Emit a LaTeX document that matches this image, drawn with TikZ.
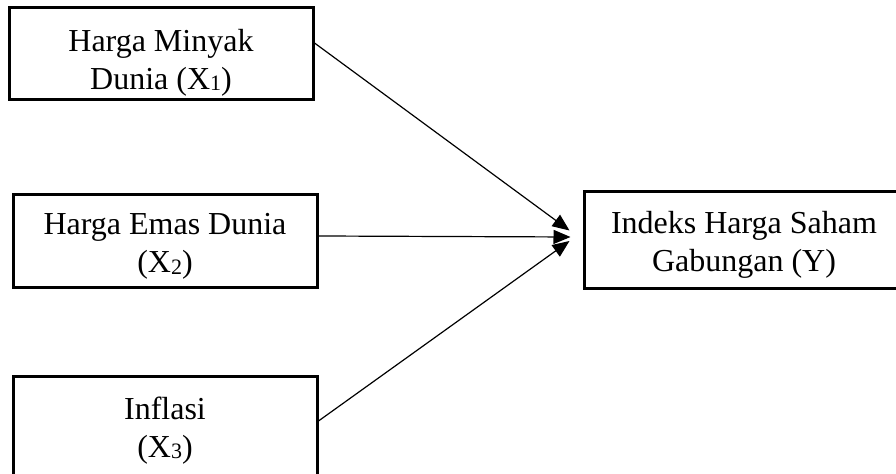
\documentclass[tikz,border=0pt]{standalone}
\usepackage{fontspec}
\setmainfont{Liberation Serif}
\usetikzlibrary{arrows.meta}
\newcommand\mysub[1]{\raisebox{-0.8pt}{\fontsize{11}{11}\selectfont #1}}
\tikzset{
  box/.style={draw=black, line width=1.5pt, rectangle, inner sep=0pt},
  lbl/.style={align=center, inner sep=0pt, font=\fontsize{16}{19}\selectfont},
  arr/.style={draw=black, line width=0.6pt, -{Triangle[length=8.5pt,width=7pt]}}
}
\begin{document}
\begin{tikzpicture}[x=0.5pt,y=-0.5pt]
\useasboundingbox (0,0) rectangle (896,474);
\clip (0,0) rectangle (896,474);
\fill[white] (0,0) rectangle (896,474);
% boxes
\node[box, minimum width=152pt, minimum height=46pt] (x1) at (161,54) {};
\node[box, minimum width=152pt, minimum height=46.5pt] (x2) at (165,241.5) {};
\node[box, minimum width=152pt, minimum height=51.5pt] (x3) at (165,428.5) {};
\node[box, minimum width=160pt, minimum height=48.5pt] (y) at (744,240.5) {};
% labels
\node[lbl] (t1) at (161,62.5) {Harga Minyak\\Dunia (X\mysub{1})};
\node[lbl] (t2) at (165,246.5) {Harga Emas Dunia\\(X\mysub{2})};
\node[lbl] (t3) at (165,430.5) {Inflasi\\(X\mysub{3})};
\node[lbl] (ty) at (744,244.5) {Indeks Harga Saham\\Gabungan (Y)};
% connectors
\draw[arr] ([yshift=5.5pt]x1.east) -- ([xshift=-6.5pt,yshift=5pt]y.west);
\draw[arr] ([yshift=2.75pt]x2.east) -- ([xshift=-6pt,yshift=1.75pt]y.west);
\draw[arr] ([yshift=3.75pt]x3.east) -- ([xshift=-6.5pt,yshift=-0.25pt]y.west);
\end{tikzpicture}
\end{document}
